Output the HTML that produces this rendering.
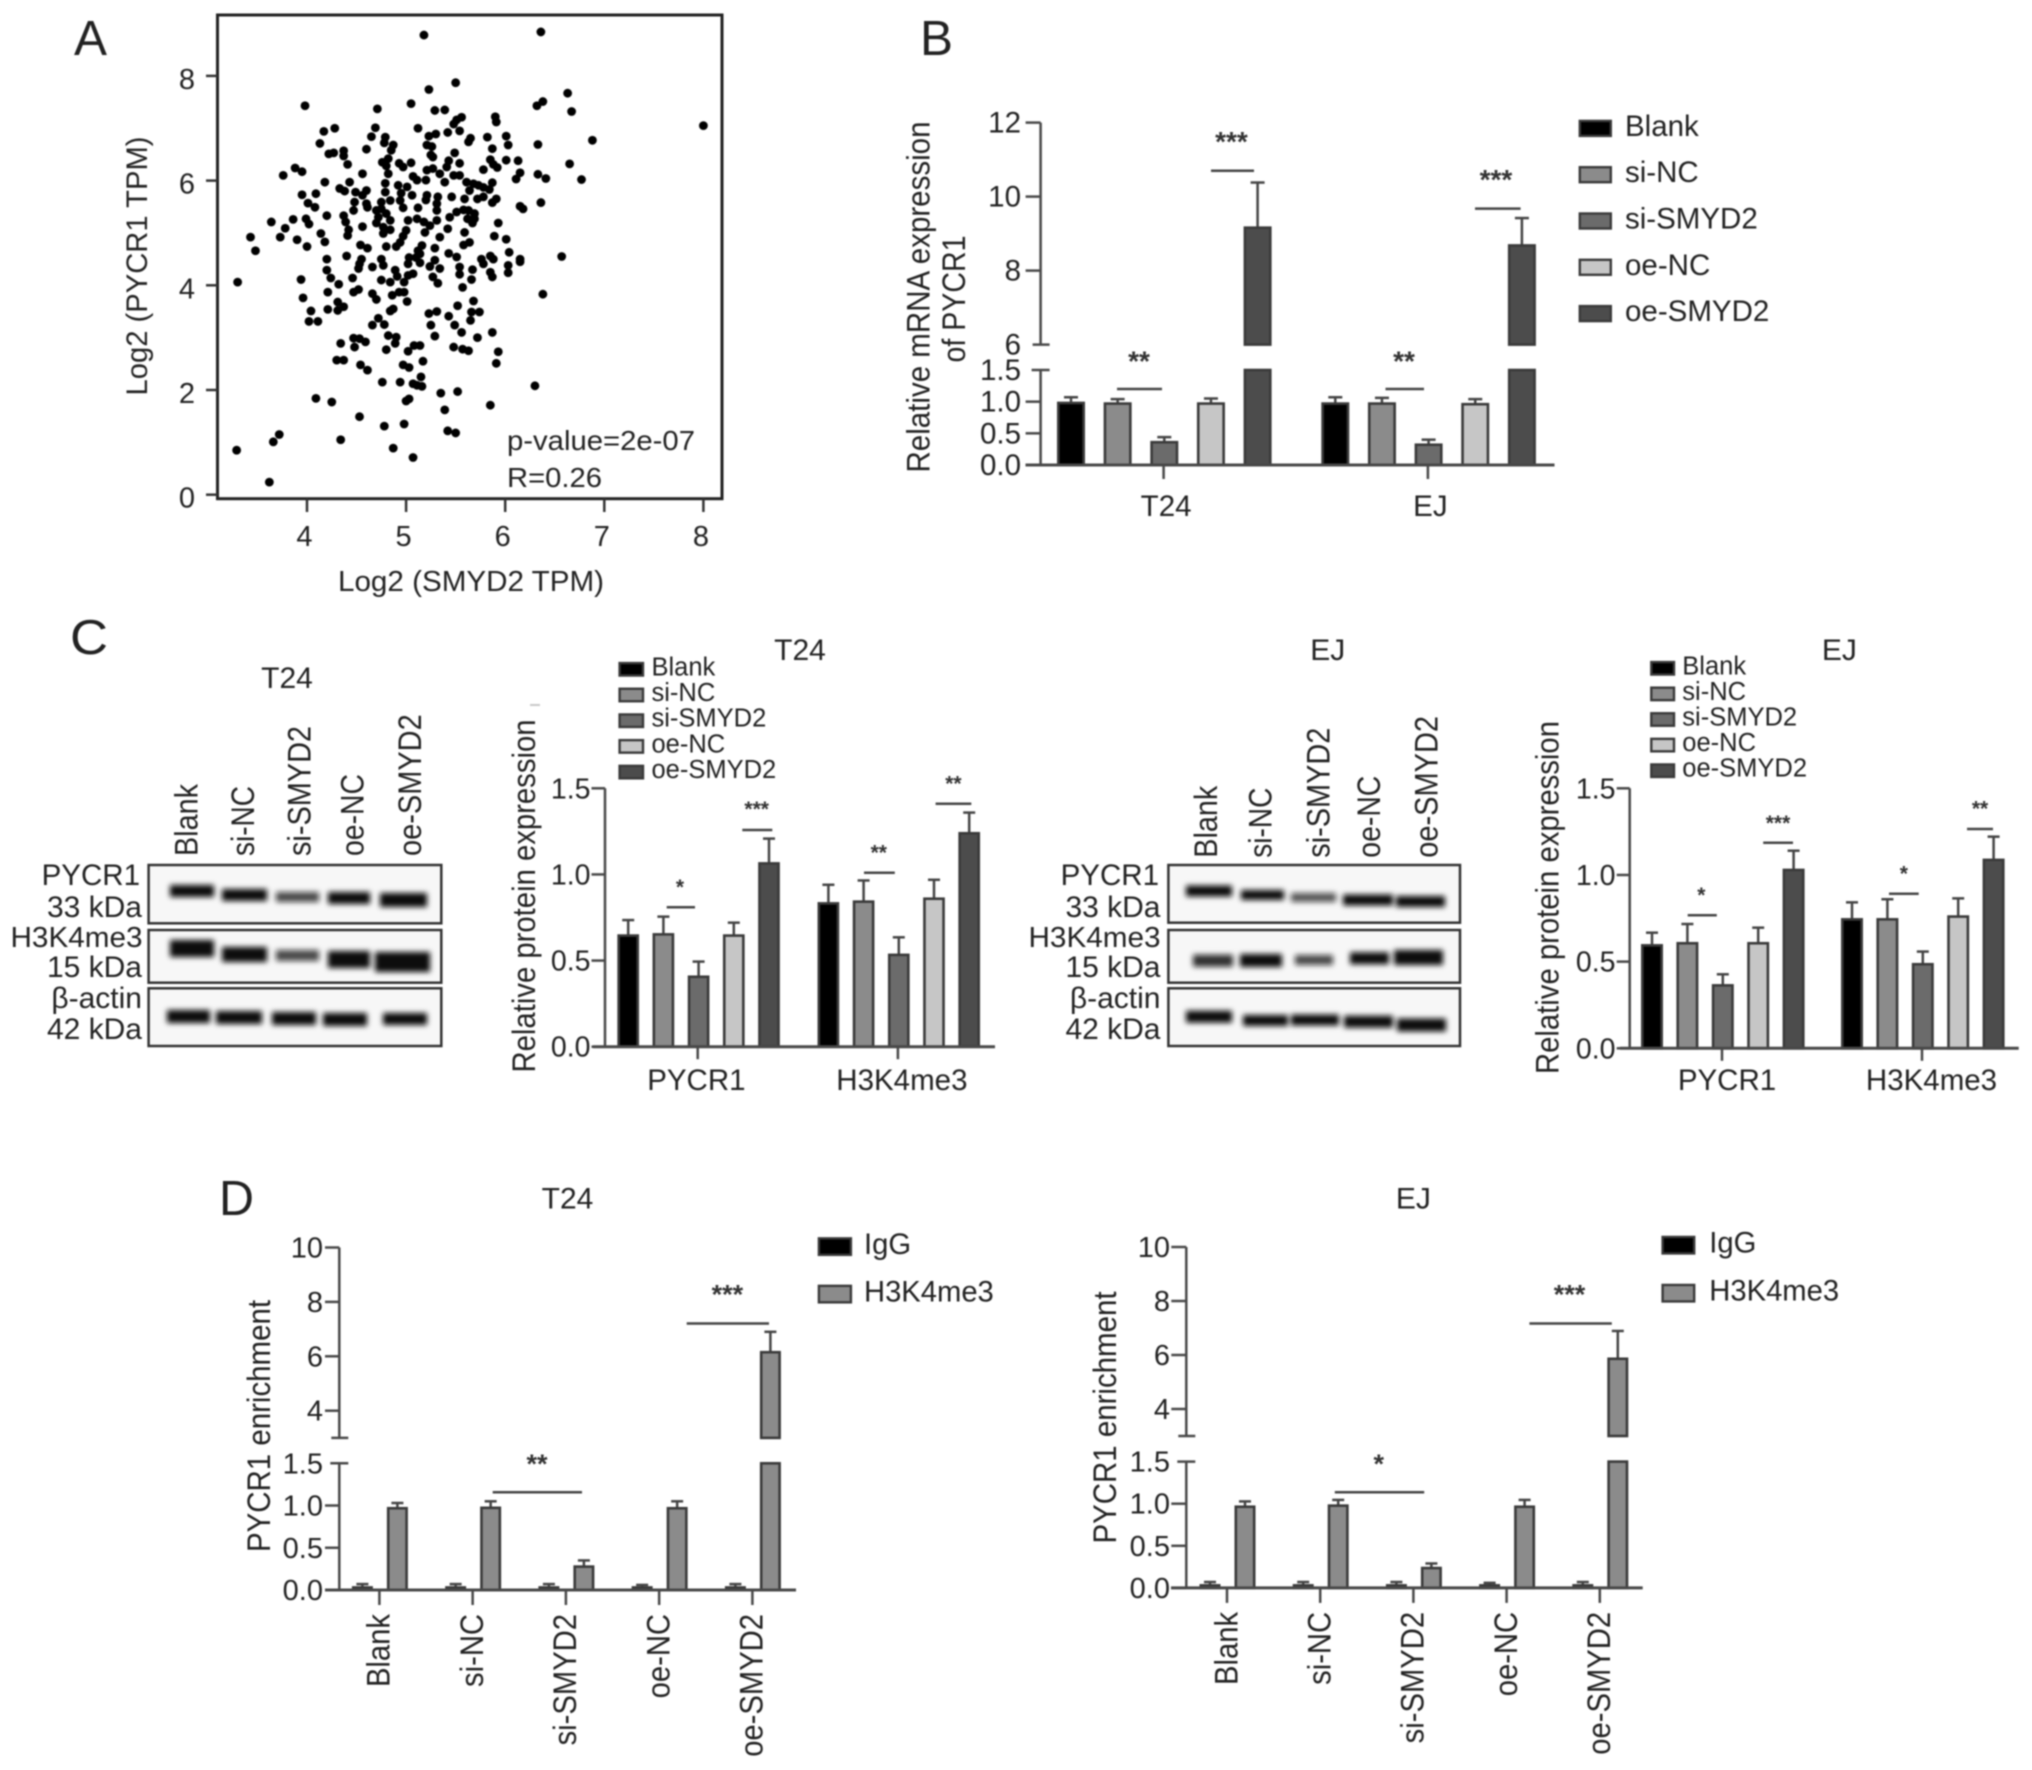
<!DOCTYPE html>
<html lang="en">
<head>
<meta charset="utf-8">
<title>SMYD2 and PYCR1 figure</title>
<style>
html,body{margin:0;padding:0;background:#fff;width:2032px;height:1770px;overflow:hidden}
svg{display:block;filter:blur(0.7px)}
text{font-family:"Liberation Sans",sans-serif;fill:#222}
.sig{stroke:#444;stroke-width:2.5}
.star{font-weight:bold;text-anchor:middle;fill:#333}
.band{fill:#0c0c0c}
.box{fill:#f7f7f7;stroke:#333;stroke-width:2.5}
.r{text-anchor:end}
.m{text-anchor:middle}
</style>
</head>
<body>
<svg id="fig" xmlns="http://www.w3.org/2000/svg" width="2032" height="1770" viewBox="0 0 2032 1770">
<defs><filter id="bl" x="-20%" y="-60%" width="140%" height="220%"><feGaussianBlur stdDeviation="2.6"/></filter></defs>
<rect width="2032" height="1770" fill="#fff"/>

<!-- panel letters -->
<text x="74" y="55" font-size="49" textLength="33" lengthAdjust="spacingAndGlyphs">A</text>
<text x="920" y="55" font-size="49" textLength="33" lengthAdjust="spacingAndGlyphs">B</text>
<text x="70" y="654" font-size="49" textLength="38" lengthAdjust="spacingAndGlyphs">C</text>
<text x="219" y="1215" font-size="49" textLength="35" lengthAdjust="spacingAndGlyphs">D</text>

<!-- panel A static text -->
<g>
<rect x="217.5" y="15" width="504.5" height="483.7" fill="none" stroke="#222" stroke-width="3"/>
<g id="scatter"></g>
<text x="338" y="591" font-size="29" textLength="266" lengthAdjust="spacingAndGlyphs">Log2 (SMYD2 TPM)</text>
<text transform="rotate(-90 147 266)" x="147" y="266" font-size="30" class="m" textLength="259" lengthAdjust="spacingAndGlyphs">Log2 (PYCR1 TPM)</text>
<text x="507" y="450" font-size="28" textLength="188" lengthAdjust="spacingAndGlyphs">p-value=2e-07</text>
<text x="507" y="487" font-size="28" textLength="95" lengthAdjust="spacingAndGlyphs">R=0.26</text>
</g>

<!-- panel B static text -->
<g>
<g id="chartB"></g>
<text transform="rotate(-90 929.7 297)" x="929.7" y="297" font-size="32" class="m" textLength="351" lengthAdjust="spacingAndGlyphs">Relative mRNA expression</text>
<text transform="rotate(-90 964.8 299)" x="964.8" y="299" font-size="32" class="m" textLength="127" lengthAdjust="spacingAndGlyphs">of PYCR1</text>
<line class="sig" x1="1211" x2="1254" y1="170.7" y2="170.7"/>
<text class="star" x="1231.5" y="151" font-size="28">***</text>
<line class="sig" x1="1117" x2="1162" y1="389" y2="389"/>
<text class="star" x="1139" y="370.5" font-size="28">**</text>
<line class="sig" x1="1475" x2="1520.6" y1="208.6" y2="208.6"/>
<text class="star" x="1496" y="189" font-size="28">***</text>
<line class="sig" x1="1385.5" x2="1424" y1="389" y2="389"/>
<text class="star" x="1404" y="370.5" font-size="28">**</text>
</g>

<!-- panel C T24 blot -->
<g>
<text x="287" y="688" font-size="30" class="m">T24</text>
<text transform="rotate(-90 197.7 856)" x="197.7" y="856" font-size="32" textLength="72" lengthAdjust="spacingAndGlyphs">Blank</text>
<text transform="rotate(-90 253.8 856)" x="253.8" y="856" font-size="32" textLength="70" lengthAdjust="spacingAndGlyphs">si-NC</text>
<text transform="rotate(-90 310.6 856)" x="310.6" y="856" font-size="32" textLength="130" lengthAdjust="spacingAndGlyphs">si-SMYD2</text>
<text transform="rotate(-90 363.5 856)" x="363.5" y="856" font-size="32" textLength="82" lengthAdjust="spacingAndGlyphs">oe-NC</text>
<text transform="rotate(-90 421 856)" x="421" y="856" font-size="32" textLength="141.7" lengthAdjust="spacingAndGlyphs">oe-SMYD2</text>
<rect class="box" x="148.6" y="865" width="292.7" height="58.3"/>
<rect class="box" x="148.6" y="930" width="292.7" height="52.7"/>
<rect class="box" x="148.6" y="988.3" width="292.7" height="57.7"/>
<g filter="url(#bl)">
<rect class="band" x="170" y="885" width="44" height="12"/>
<rect class="band" x="222" y="889" width="45" height="12"/>
<rect class="band" x="276" y="892" width="43" height="10" opacity=".75"/>
<rect class="band" x="328" y="892" width="42" height="12"/>
<rect class="band" x="380" y="893" width="47" height="14"/>
<rect class="band" x="170" y="940" width="44" height="17"/>
<rect class="band" x="222" y="947" width="45" height="15"/>
<rect class="band" x="276" y="950" width="43" height="11" opacity=".75"/>
<rect class="band" x="328" y="951" width="42" height="17"/>
<rect class="band" x="375" y="952" width="55" height="20"/>
<rect class="band" x="167" y="1010" width="43" height="13"/>
<rect class="band" x="216" y="1011" width="46" height="13"/>
<rect class="band" x="272" y="1012" width="44" height="13"/>
<rect class="band" x="323" y="1013" width="44" height="13"/>
<rect class="band" x="383" y="1013" width="44" height="12"/>
</g>
<text class="r" x="140" y="885" font-size="29.5">PYCR1</text>
<text class="r" x="142" y="917" font-size="30">33 kDa</text>
<text class="r" x="142.5" y="947" font-size="29" textLength="132" lengthAdjust="spacingAndGlyphs">H3K4me3</text>
<text class="r" x="142" y="977" font-size="30">15 kDa</text>
<text class="r" x="142" y="1008" font-size="30">β-actin</text>
<text class="r" x="142" y="1039" font-size="30">42 kDa</text>
</g>

<!-- panel C T24 chart -->
<g>
<g id="chartC1"></g>
<text x="800" y="660" font-size="30" class="m">T24</text>
<text transform="rotate(-90 535 896)" x="535" y="896" font-size="32" class="m" textLength="353" lengthAdjust="spacingAndGlyphs">Relative protein expression</text>
<rect x="530" y="704" width="10" height="2" fill="#c8c8c8"/>
<line class="sig" x1="666.7" x2="695" y1="907.3" y2="907.3"/>
<text class="star" x="680" y="894" font-size="21">*</text>
<line class="sig" x1="742.3" x2="772.3" y1="830" y2="830"/>
<text class="star" x="756.7" y="816" font-size="21">***</text>
<line class="sig" x1="864" x2="894.8" y1="872.7" y2="872.7"/>
<text class="star" x="878.8" y="859.5" font-size="21">**</text>
<line class="sig" x1="935.6" x2="971.3" y1="803.7" y2="803.7"/>
<text class="star" x="953.4" y="790.5" font-size="21">**</text>
</g>

<!-- panel C EJ blot -->
<g>
<text x="1327.7" y="660" font-size="30" class="m">EJ</text>
<text transform="rotate(-90 1216.8 857.7)" x="1216.8" y="857.7" font-size="32" textLength="72" lengthAdjust="spacingAndGlyphs">Blank</text>
<text transform="rotate(-90 1271.6 857.7)" x="1271.6" y="857.7" font-size="32" textLength="70" lengthAdjust="spacingAndGlyphs">si-NC</text>
<text transform="rotate(-90 1329.7 857.7)" x="1329.7" y="857.7" font-size="32" textLength="130" lengthAdjust="spacingAndGlyphs">si-SMYD2</text>
<text transform="rotate(-90 1380 857.7)" x="1380" y="857.7" font-size="32" textLength="82" lengthAdjust="spacingAndGlyphs">oe-NC</text>
<text transform="rotate(-90 1437.4 857.7)" x="1437.4" y="857.7" font-size="32" textLength="141.7" lengthAdjust="spacingAndGlyphs">oe-SMYD2</text>
<rect class="box" x="1168.4" y="865" width="291.6" height="57.7"/>
<rect class="box" x="1168.4" y="930" width="291.6" height="52.7"/>
<rect class="box" x="1168.4" y="988.3" width="291.6" height="57.7"/>
<g filter="url(#bl)">
<rect class="band" x="1186" y="885.5" width="46" height="11"/>
<rect class="band" x="1241" y="890" width="43" height="10"/>
<rect class="band" x="1291" y="893" width="45" height="9" opacity=".7"/>
<rect class="band" x="1343" y="894.5" width="50" height="11"/>
<rect class="band" x="1396" y="896" width="49" height="11"/>
<rect class="band" x="1193" y="954.7" width="40" height="12" opacity=".85"/>
<rect class="band" x="1240" y="954" width="42" height="13"/>
<rect class="band" x="1295" y="955" width="38" height="10" opacity=".75"/>
<rect class="band" x="1350" y="952.3" width="39" height="12"/>
<rect class="band" x="1394" y="950" width="49" height="15"/>
<rect class="band" x="1186" y="1010.7" width="46" height="12"/>
<rect class="band" x="1243" y="1015" width="45" height="11"/>
<rect class="band" x="1291" y="1014.5" width="48" height="11"/>
<rect class="band" x="1344" y="1015.7" width="49" height="12"/>
<rect class="band" x="1397" y="1018.5" width="49" height="13"/>
</g>
<text class="r" x="1159" y="885" font-size="29.5">PYCR1</text>
<text class="r" x="1160.5" y="917" font-size="30">33 kDa</text>
<text class="r" x="1160.5" y="947" font-size="29" textLength="132" lengthAdjust="spacingAndGlyphs">H3K4me3</text>
<text class="r" x="1160.5" y="977" font-size="30">15 kDa</text>
<text class="r" x="1160.5" y="1008" font-size="30">β-actin</text>
<text class="r" x="1160.5" y="1039" font-size="30">42 kDa</text>
</g>

<!-- panel C EJ chart -->
<g>
<g id="chartC2"></g>
<text x="1839.4" y="660" font-size="30" class="m">EJ</text>
<text transform="rotate(-90 1558.7 897.5)" x="1558.7" y="897.5" font-size="32" class="m" textLength="353" lengthAdjust="spacingAndGlyphs">Relative protein expression</text>
<line class="sig" x1="1687.7" x2="1716.8" y1="915.3" y2="915.3"/>
<text class="star" x="1701.3" y="902" font-size="21">*</text>
<line class="sig" x1="1763.2" x2="1793" y1="842.7" y2="842.7"/>
<text class="star" x="1778" y="830" font-size="21">***</text>
<line class="sig" x1="1889" x2="1918.7" y1="893.7" y2="893.7"/>
<text class="star" x="1903.9" y="880.5" font-size="21">*</text>
<line class="sig" x1="1967" x2="1993" y1="829" y2="829"/>
<text class="star" x="1980" y="815.5" font-size="21">**</text>
</g>

<!-- panel D T24 -->
<g>
<g id="chartD1"></g>
<text x="567.5" y="1208.3" font-size="30" class="m">T24</text>
<text transform="rotate(-90 270 1426)" x="270" y="1426" font-size="32" class="m" textLength="252" lengthAdjust="spacingAndGlyphs">PYCR1 enrichment</text>
<line class="sig" x1="492.7" x2="582" y1="1492.2" y2="1492.2"/>
<text class="star" x="537" y="1473" font-size="27">**</text>
<line class="sig" x1="686.7" x2="769" y1="1323.5" y2="1323.5"/>
<text class="star" x="727.4" y="1303.5" font-size="27">***</text>
</g>

<!-- panel D EJ -->
<g>
<g id="chartD2"></g>
<text x="1413.4" y="1208.3" font-size="30" class="m">EJ</text>
<text transform="rotate(-90 1115.8 1417.5)" x="1115.8" y="1417.5" font-size="32" class="m" textLength="252" lengthAdjust="spacingAndGlyphs">PYCR1 enrichment</text>
<line class="sig" x1="1334.8" x2="1424.2" y1="1492.2" y2="1492.2"/>
<text class="star" x="1378.7" y="1473" font-size="27">*</text>
<line class="sig" x1="1529.4" x2="1611.8" y1="1323.5" y2="1323.5"/>
<text class="star" x="1569.5" y="1303.5" font-size="27">***</text>
</g>
</svg>

<script>
// ---- Panel A data (log2 TPM values) ----
const scatterXTicks = [4, 5, 6, 7, 8];
const scatterYTicks = [0, 2, 4, 6, 8];
const scatterPoints = [
[5.18,8.78],[6.36,8.84],[5.50,7.87],[5.23,7.74],[3.98,7.43],[4.71,7.37],[5.05,7.47],[5.29,7.34],[5.39,7.35],[5.56,7.21],[5.51,7.16],[5.48,7.08],[5.90,7.22],[5.91,7.12],[6.38,7.51],[6.32,7.43],[4.28,7.0],[4.17,6.94],[4.69,7.01],[4.65,6.84],[5.12,7.0],[4.13,6.71],[5.42,6.92],[5.54,6.95],[4.79,6.83],[4.78,6.72],[5.30,6.89],[5.23,6.85],[5.65,6.81],[5.63,6.74],[5.82,6.83],[6.01,6.85],[6.03,6.68],[6.33,6.69],[4.60,6.60],[4.87,6.68],[4.85,6.58],[5.21,6.68],[5.26,6.65],[5.87,6.61],[4.22,6.51],[4.27,6.53],[4.37,6.57],[4.37,6.47],[4.41,6.31],[5.25,6.49],[5.49,6.53],[5.85,6.40],[5.88,6.31],[5.92,6.25],[6.01,6.39],[6.13,6.38],[4.82,6.42],[4.76,6.35],[4.80,6.28],[4.93,6.33],[5.05,6.34],[4.97,6.26],[5.27,6.45],[5.43,6.38],[5.54,6.33],[3.88,6.24],[3.95,6.17],[3.76,6.10],[4.56,6.13],[4.82,6.13],[5.21,6.2],[5.27,6.23],[5.34,6.13],[5.41,6.26],[5.48,6.10],[5.54,6.10],[5.78,6.21],[6.15,6.15],[6.11,6.03],[6.33,6.12],[6.41,6.04],[4.18,5.97],[4.43,5.97],[5.07,6.08],[5.11,6.01],[5.20,6.01],[5.39,5.97],[5.61,5.97],[5.68,5.94],[5.73,5.91],[5.78,5.87],[5.84,5.83],[5.87,5.96],[4.79,5.95],[4.92,5.91],[5.01,5.88],[4.33,5.85],[4.38,5.80],[4.49,5.78],[4.60,5.81],[4.56,5.72],[4.79,5.78],[4.95,5.76],[5.06,5.72],[4.09,5.75],[3.95,5.73],[5.21,5.72],[5.64,5.81],[5.46,5.69],[5.59,5.65],[5.72,5.65],[5.78,5.69],[5.91,5.65],[5.87,5.58],[6.36,5.58],[4.01,5.57],[4.08,5.49],[4.48,5.59],[4.60,5.56],[4.75,5.59],[4.84,5.62],[4.94,5.62],[5.20,5.63],[5.32,5.69],[5.31,5.56],[5.31,5.43],[4.97,5.48],[5.12,5.48],[6.15,5.51],[6.18,5.46],[4.20,5.33],[4.37,5.33],[4.39,5.21],[4.47,5.43],[4.61,5.49],[4.70,5.43],[4.75,5.46],[5.58,5.44],[5.51,5.40],[5.44,5.30],[5.63,5.43],[5.69,5.37],[5.69,5.27],[5.67,5.19],[4.72,5.30],[4.80,5.37],[4.84,5.24],[5.02,5.24],[5.11,5.27],[5.18,5.21],[5.24,5.14],[5.31,5.24],[5.62,5.27],[5.93,5.19],[3.64,5.21],[3.86,5.26],[3.78,5.09],[3.99,5.27],[4.02,5.17],[4.70,5.19],[4.77,5.11],[4.84,5.06],[4.56,5.12],[4.42,5.06],[4.41,4.95],[5.19,5.01],[5.42,5.08],[5.59,5.01],[3.43,4.92],[3.73,4.92],[4.14,4.99],[4.77,4.99],[5.0,5.05],[4.97,4.94],[4.94,4.82],[4.90,4.74],[5.34,4.92],[5.89,4.94],[6.01,4.88],[3.90,4.87],[4.18,4.83],[5.64,4.82],[5.58,4.77],[3.48,4.66],[4.0,4.74],[4.54,4.77],[4.61,4.71],[4.80,4.74],[5.16,4.76],[5.12,4.66],[5.29,4.71],[5.43,4.61],[5.51,4.54],[6.04,4.63],[6.57,4.55],[4.2,4.5],[4.40,4.56],[4.55,4.5],[4.75,4.5],[5.03,4.53],[5.10,4.53],[5.14,4.6],[5.29,4.48],[5.85,4.56],[5.88,4.5],[6.15,4.5],[5.76,4.5],
[6.63,7.67],[6.67,7.32],[6.88,6.77],[8.0,7.05],[6.65,6.32],[6.77,6.02],
[4.20,4.29],[4.24,4.14],[4.32,4.02],[3.94,4.11],[3.30,4.06],[4.53,4.41],[4.52,4.32],[4.66,4.35],[4.77,4.38],[4.46,4.14],[4.75,4.10],[4.84,4.06],[4.89,4.29],[4.91,4.17],[4.98,4.06],[5.02,4.19],[5.07,4.22],[5.02,4.41],[5.14,4.43],[5.24,4.36],[5.34,4.32],[5.27,4.16],[5.32,4.04],[5.54,4.35],[5.54,4.21],[5.67,4.30],[5.66,4.11],[5.78,4.41],[5.85,4.25],[5.87,4.16],[6.03,4.38],[6.03,4.24],[6.15,4.45],[5.57,3.96],[6.38,3.83],[4.21,3.87],[3.96,3.76],[4.47,3.87],[4.52,3.92],[4.66,3.84],[4.70,3.73],[4.86,3.81],[4.93,3.87],[4.98,3.87],[5.01,3.69],[4.04,3.51],[4.31,3.68],[4.37,3.59],[4.31,3.52],[4.21,3.54],[4.84,3.51],[4.87,3.55],[5.52,3.61],[5.68,3.70],[5.66,3.49],[5.74,3.49],[5.65,3.33],[5.43,3.41],[5.23,3.46],[5.31,3.50],[4.02,3.31],[4.11,3.31],[4.72,3.37],[4.66,3.24],[4.78,3.25],[5.25,3.24],[5.49,3.24],[5.56,3.10],[5.29,3.03],[5.87,3.10],[5.72,3.0],[4.82,3.04],[4.90,3.01],[4.89,2.89],[4.34,2.89],[4.47,2.99],[4.53,2.98],[4.59,2.92],[4.48,2.82],[4.80,2.77],[5.02,2.74],[5.08,2.85],[5.14,2.85],[5.48,2.82],[5.57,2.78],[5.63,2.75],[5.93,2.73],[5.91,2.51],[5.17,2.55],[4.30,2.57],[4.37,2.57],[4.54,2.48],[4.61,2.38],[4.97,2.48],[5.03,2.43],[5.15,2.25],[5.07,2.12],[5.11,2.09],[5.16,2.07],[4.76,2.15],[4.94,2.15],[6.30,2.08],[5.35,1.94],[5.52,1.97],[4.09,1.84],[4.25,1.77],[5.03,1.83],[5.0,1.79],[5.85,1.71],[5.39,1.62],[4.53,1.49],[4.78,1.31],[4.98,1.35],[5.42,1.22],[5.50,1.18],[3.72,1.15],[3.66,1.01],[4.34,1.05],[3.29,0.85],[4.87,0.89],[5.07,0.71],[3.62,0.24]
];

// ---- Shared categories ----
const treatmentLabels = ['Blank', 'si-NC', 'si-SMYD2', 'oe-NC', 'oe-SMYD2'];
const antibodyLabels = ['IgG', 'H3K4me3'];

// ---- Panel B data ----
const bGroupLabels = ['T24', 'EJ'];
const bUpperTicks = [6, 8, 10, 12];
const bLowerTicks = [0, 0.5, 1, 1.5];
const bT24Means = [0.98, 0.97, 0.36, 0.97, 9.16];
const bT24ErrTops = [1.07, 1.04, 0.44, 1.05, 10.38];
const bEJMeans = [0.97, 0.97, 0.32, 0.96, 8.68];
const bEJErrTops = [1.07, 1.06, 0.40, 1.04, 9.42];

// ---- Panel C data ----
const cGroupLabels = ['PYCR1', 'H3K4me3'];
const cTicks = [0, 0.5, 1, 1.5];
const c1PycrMeans = [0.645, 0.652, 0.406, 0.645, 1.064];
const c1PycrErrTops = [0.735, 0.755, 0.494, 0.72, 1.208];
const c1H3Means = [0.832, 0.842, 0.533, 0.859, 1.239];
const c1H3ErrTops = [0.94, 0.965, 0.635, 0.969, 1.359];
const c2PycrMeans = [0.594, 0.606, 0.363, 0.606, 1.029];
const c2PycrErrTops = [0.667, 0.717, 0.427, 0.696, 1.14];
const c2H3Means = [0.744, 0.744, 0.485, 0.76, 1.087];
const c2H3ErrTops = [0.842, 0.86, 0.558, 0.865, 1.221];

// ---- Panel D data ----
const dUpperTicks = [4, 6, 8, 10];
const dLowerTicks = [0, 0.5, 1, 1.5];
const d1IgGMeans = [0.03, 0.03, 0.03, 0.03, 0.03];
const d1IgGErrTops = [0.07, 0.07, 0.07, 0.06, 0.07];
const d1H3Means = [0.968, 0.973, 0.277, 0.968, 6.15];
const d1H3ErrTops = [1.03, 1.05, 0.35, 1.05, 6.9];
const d2IgGMeans = [0.03, 0.03, 0.03, 0.03, 0.03];
const d2IgGErrTops = [0.07, 0.07, 0.07, 0.06, 0.07];
const d2H3Means = [0.964, 0.977, 0.236, 0.964, 5.86];
const d2H3ErrTops = [1.027, 1.045, 0.29, 1.045, 6.89];

// ---- Styling ----
const fivePalette = ['#000000', '#8b8b8b', '#6b6b6b', '#c6c6c6', '#4c4c4c'];
const twoPalette = ['#000000', '#8b8b8b'];
const NS = 'http://www.w3.org/2000/svg';
const axisColor = '#484848';

function add(parent, tag, attrs, name, content) {
  const el = document.createElementNS(NS, tag);
  for (const k in attrs) el.setAttribute(k, attrs[k]);
  
  
  if (content !== undefined) el.textContent = content;
  parent.appendChild(el);
  return el;
}
function line(parent, x1, y1, x2, y2, name, color, w) {
  return add(parent, 'line', {x1, y1, x2, y2, stroke: color || axisColor, 'stroke-width': w || 2.5}, name);
}

// axis functions
function linearScale(base, k) { return v => base - v * k; }
function brokenScale(base, lowK, lowMax, upMin, upBase, upK) {
  return v => v <= lowMax ? base - v * lowK : upBase - (v - upMin) * upK;
}

// ---- Panel A ----
(function () {
  const g = document.getElementById('scatter');
  const sx = v => 307 + (v - 4) * 99.1;
  const sy = linearScale(494.7, 52.35);
  scatterXTicks.forEach(v => {
    line(g, sx(v), 498.7, sx(v), 512, 'x-tick', '#333', 2.5);
    add(g, 'text', {x: sx(v) - 2.5, y: 546, 'font-size': 29, 'text-anchor': 'middle'}, 'x-tick-label', String(v));
  });
  scatterYTicks.forEach(v => {
    line(g, 206, sy(v), 217.5, sy(v), 'y-tick', '#333', 2.5);
    add(g, 'text', {x: 195, y: sy(v) + 13, 'font-size': 29, 'text-anchor': 'end'}, 'y-tick-label', String(v));
  });
  scatterPoints.forEach(p => {
    add(g, 'circle', {cx: sx(p[0]), cy: sy(p[1]), r: 4.4, fill: '#000'}, 'scatter-point');
  });
})();

// ---- Grouped bar charts ----
function drawBar(g, cx, w, y, v, fill, o) {
  const sw = 2.6;
  const attrs = (top, bot) => ({x: cx - w / 2 + sw / 2, y: top, width: w - sw, height: Math.max(bot - top, 0.5), fill, stroke: '#3a3a3a', 'stroke-width': sw});
  if (o.lowMax !== undefined && v > o.lowMax) {
    add(g, 'rect', attrs(y(o.lowMax), y(0)), 'bar-lower-segment');
    add(g, 'rect', attrs(y(v), y(o.upMin)), 'bar-upper-segment');
  } else {
    add(g, 'rect', attrs(y(v), y(0)), 'bar');
  }
}
function drawChart(id, o) {
  const g = document.getElementById(id);
  const y = o.y;
  // error bars and bars
  o.means.forEach((ms, gi) => {
    ms.forEach((m, bi) => {
      const cx = o.x0 + gi * o.groupStep + bi * o.barStep;
      const et = o.errs[gi][bi];
      line(g, cx, y(m), cx, y(et), 'error-bar', '#444', 2.5);
      line(g, cx - o.cap / 2, y(et), cx + o.cap / 2, y(et), 'error-cap', '#444', 2.5);
      drawBar(g, cx, o.barW, y, m, o.palette[bi], o);
    });
  });
  // y axis
  const ax = o.axisX;
  if (o.lowMax !== undefined) {
    line(g, ax, y(Math.max.apply(null, o.upTicks)), ax, y(o.upMin), 'y-axis-upper');
    line(g, ax, y(o.lowMax), ax, y(0), 'y-axis-lower');
    line(g, ax - 8, y(o.upMin), ax + 9, y(o.upMin), 'axis-break-tick');
    line(g, ax - 9, y(o.lowMax), ax + 9, y(o.lowMax), 'axis-break-tick');
    o.upTicks.forEach(v => {
      if (v !== o.upMin) line(g, ax - o.tick, y(v), ax, y(v), 'y-tick');
      add(g, 'text', {x: o.labelX, y: y(v) + 10, 'font-size': o.fs, 'text-anchor': 'end'}, 'y-tick-label', String(v));
    });
  } else {
    line(g, ax, y(Math.max.apply(null, o.lowTicks)), ax, y(0), 'y-axis');
  }
  o.lowTicks.forEach(v => {
    if (v !== o.lowMax) line(g, ax - o.tick, y(v), ax, y(v), 'y-tick');
    add(g, 'text', {x: o.labelX, y: y(v) + 10, 'font-size': o.fs, 'text-anchor': 'end'}, 'y-tick-label', v.toFixed(1));
  });
  // baseline
  line(g, o.baseX1, y(0), o.baseX2, y(0), 'x-axis', axisColor, 3);
  // category ticks and labels
  o.groups.forEach((lab, gi) => {
    const tx = o.tick0 + gi * o.groupStep;
    line(g, tx, y(0), tx, y(0) + o.catTick, 'x-tick');
    if (o.rotated) {
      const lx = tx + 10.3, ly = y(0) + 24;
      const label = add(g, 'text', {x: lx, y: ly, 'font-size': 32, 'text-anchor': 'end', transform: 'rotate(-90 ' + lx + ' ' + ly + ')'}, 'x-tick-label', lab);
      label.setAttribute('textLength', label.getComputedTextLength() * 29.2 / 32);
      label.setAttribute('lengthAdjust', 'spacingAndGlyphs');
    } else {
      add(g, 'text', {x: tx + o.labelDx[gi], y: o.catY, 'font-size': o.catFs, 'text-anchor': 'middle'}, 'x-tick-label', lab);
    }
  });
  // legend
  o.legend.forEach((lab, i) => {
    const cy = o.legY + i * o.legStep;
    add(g, 'rect', {x: o.legX + 1, y: cy - o.legH / 2, width: o.legW - 2, height: o.legH, fill: o.palette[i], stroke: '#3a3a3a', 'stroke-width': 2.4}, 'legend-swatch');
    add(g, 'text', {x: o.legTextX, y: cy + o.legDy, 'font-size': o.legFs}, 'legend-label', lab);
  });
}

drawChart('chartB', {
  y: brokenScale(465, 63.33, 1.5, 6, 344.6, 37), lowMax: 1.5, upMin: 6,
  upTicks: bUpperTicks, lowTicks: bLowerTicks,
  means: [bT24Means, bEJMeans], errs: [bT24ErrTops, bEJErrTops],
  groups: bGroupLabels, palette: fivePalette, legend: treatmentLabels,
  x0: 1071, groupStep: 264.3, barStep: 46.65, barW: 28, cap: 14,
  axisX: 1040.6, tick: 15, labelX: 1021, fs: 29.5,
  baseX1: 1025.5, baseX2: 1554.5, tick0: 1163.6, catTick: 14, catY: 516, catFs: 29.5, labelDx: [2.5, 2.5],
  legX: 1578.8, legW: 33, legH: 15, legY: 128.4, legStep: 46.3, legTextX: 1625, legFs: 29.5, legDy: 7.5
});
drawChart('chartC1', {
  y: linearScale(1046.7, 172.27),
  lowTicks: cTicks,
  means: [c1PycrMeans, c1H3Means], errs: [c1PycrErrTops, c1H3ErrTops],
  groups: cGroupLabels, palette: fivePalette, legend: treatmentLabels,
  x0: 628.2, groupStep: 200.2, barStep: 35.2, barW: 21.7, cap: 12,
  axisX: 605, tick: 13.5, labelX: 590.5, fs: 28.5,
  baseX1: 593, baseX2: 995, tick0: 697.7, catTick: 12.5, catY: 1090, catFs: 29.5, labelDx: [-1.3, 4],
  legX: 618.6, legW: 25.4, legH: 12.5, legY: 669.3, legStep: 25.7, legTextX: 651.5, legFs: 25.5, legDy: 6
});
drawChart('chartC2', {
  y: linearScale(1048.3, 173.33),
  lowTicks: cTicks,
  means: [c2PycrMeans, c2H3Means], errs: [c2PycrErrTops, c2H3ErrTops],
  groups: cGroupLabels, palette: fivePalette, legend: treatmentLabels,
  x0: 1652, groupStep: 200, barStep: 35.4, barW: 22, cap: 12,
  axisX: 1629.7, tick: 13, labelX: 1615.5, fs: 28.5,
  baseX1: 1620, baseX2: 2018.7, tick0: 1722, catTick: 12.5, catY: 1090, catFs: 29.5, labelDx: [5, 9.5],
  legX: 1650.3, legW: 24.7, legH: 12.5, legY: 668.3, legStep: 25.6, legTextX: 1682.3, legFs: 25.5, legDy: 6
});
drawChart('chartD1', {
  y: brokenScale(1590, 84.47, 1.5, 3, 1437.9, 27.2), lowMax: 1.5, upMin: 3,
  upTicks: dUpperTicks, lowTicks: dLowerTicks,
  means: d1H3Means.map((m, i) => [d1IgGMeans[i], m]), errs: d1H3ErrTops.map((m, i) => [d1IgGErrTops[i], m]),
  groups: treatmentLabels, palette: twoPalette, legend: antibodyLabels, rotated: true,
  x0: 362.4, groupStep: 93.25, barStep: 35, barW: 21, cap: 12,
  axisX: 339.3, tick: 14.3, labelX: 323, fs: 29,
  baseX1: 325, baseX2: 796, tick0: 379.4, catTick: 15,
  legX: 817.9, legW: 34, legH: 16.5, legY: 1246.6, legStep: 47.5, legTextX: 864, legFs: 29.2, legDy: 7.5
});
drawChart('chartD2', {
  y: brokenScale(1587.9, 84.2, 1.5, 3, 1436, 27), lowMax: 1.5, upMin: 3,
  upTicks: dUpperTicks, lowTicks: dLowerTicks,
  means: d2H3Means.map((m, i) => [d2IgGMeans[i], m]), errs: d2H3ErrTops.map((m, i) => [d2IgGErrTops[i], m]),
  groups: treatmentLabels, palette: twoPalette, legend: antibodyLabels, rotated: true,
  x0: 1210, groupStep: 93.2, barStep: 35, barW: 21, cap: 12,
  axisX: 1186.3, tick: 15, labelX: 1170, fs: 29,
  baseX1: 1171, baseX2: 1642.7, tick0: 1227, catTick: 15,
  legX: 1661.6, legW: 33.6, legH: 16.5, legY: 1245.2, legStep: 48, legTextX: 1709.3, legFs: 29.2, legDy: 7.5
});
</script>
</body>
</html>
